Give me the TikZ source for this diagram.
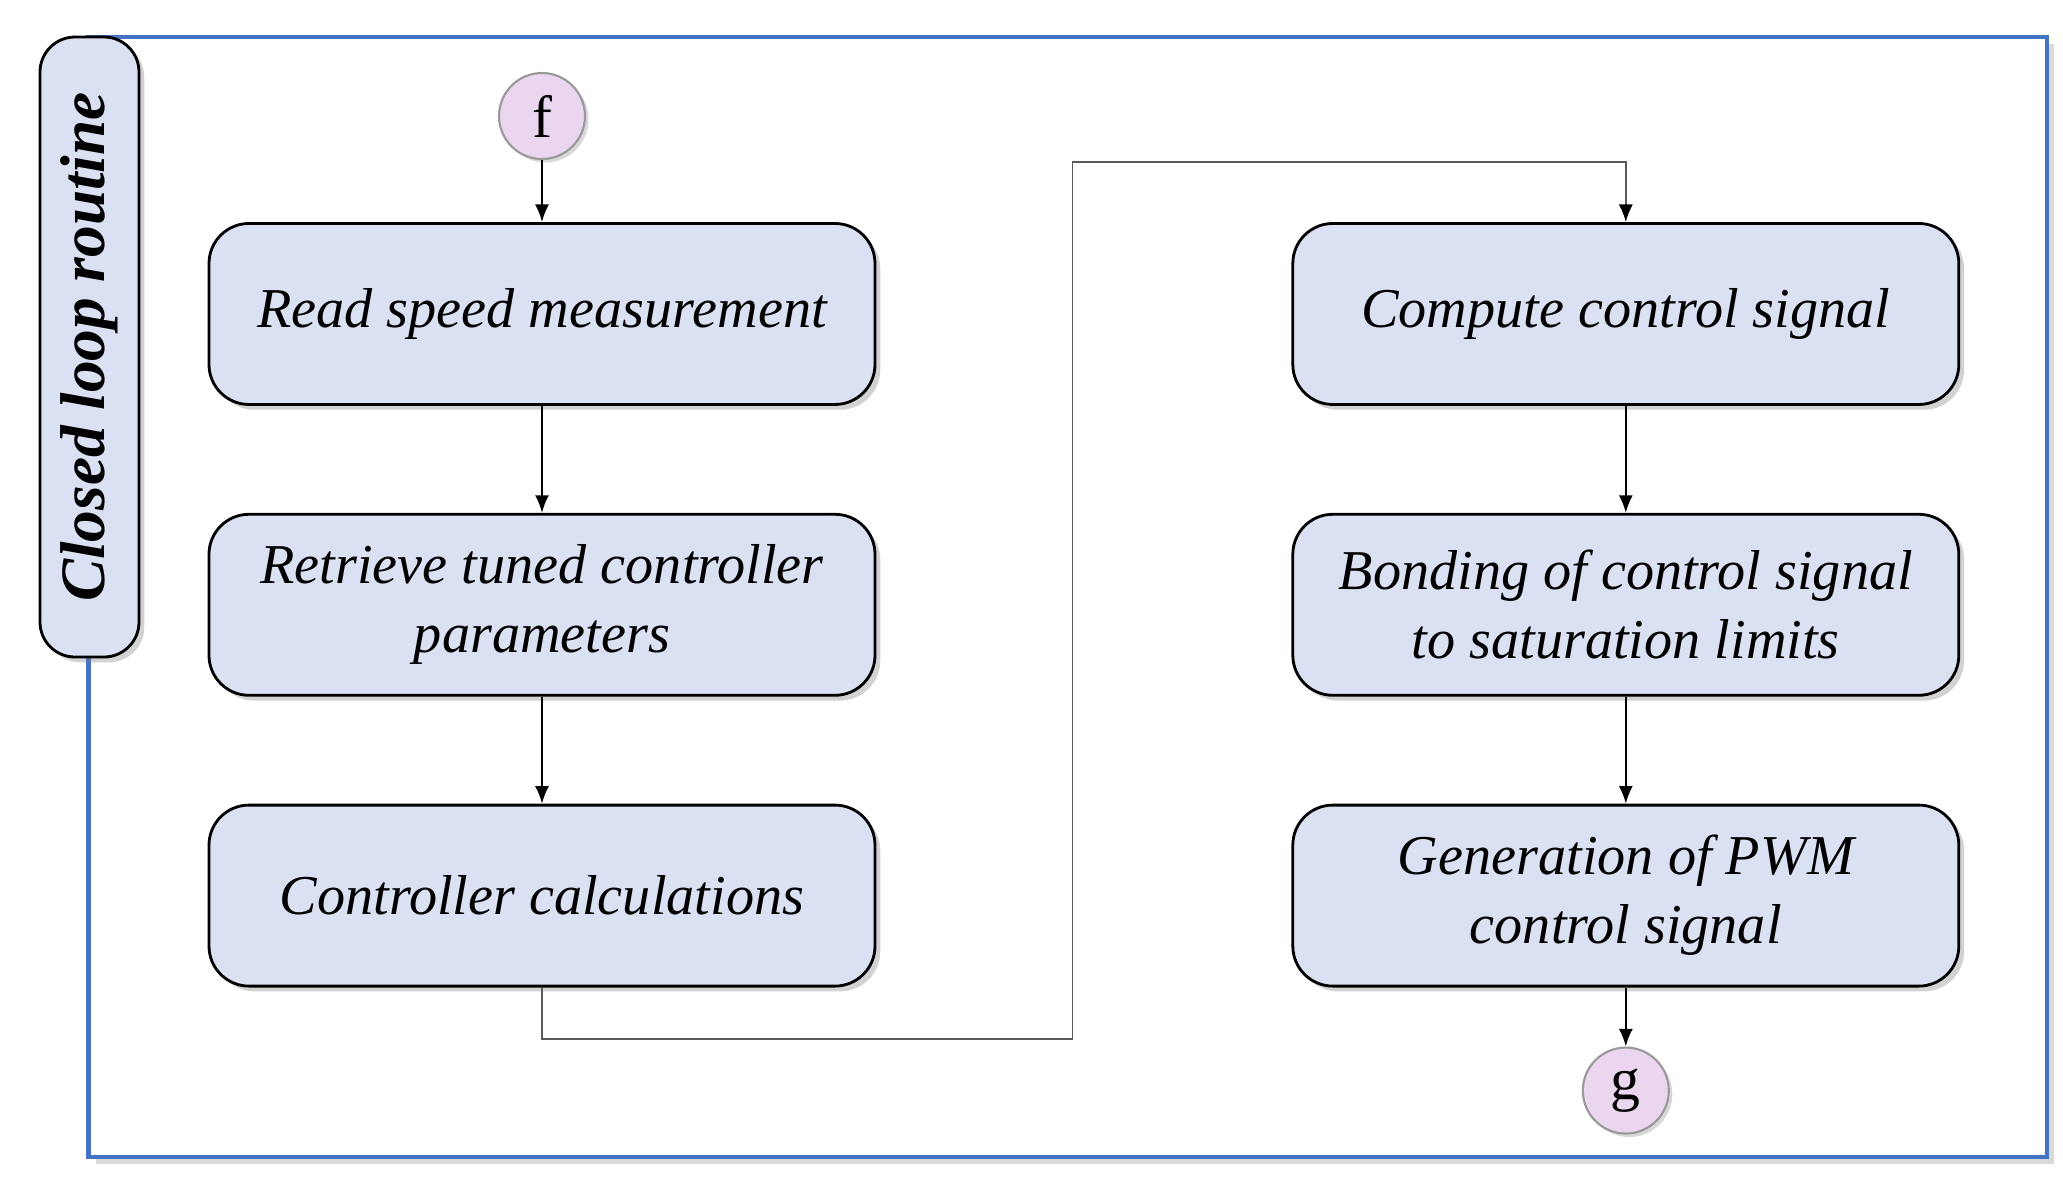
\documentclass[tikz,border=0pt]{standalone}
\usepackage{fontspec}
\setmainfont{Liberation Serif}
\usetikzlibrary{positioning}
\usetikzlibrary{shadows}
\usetikzlibrary{arrows.meta}
\definecolor{boxblue}{HTML}{DAE1F2}
\definecolor{frameblue}{HTML}{4472C4}
\definecolor{pinkfill}{HTML}{EAD6EE}

\tikzset{
  stepbox/.style={draw=black, line width=0.8pt, fill=boxblue, rounded corners=0.4cm,
    minimum width=6.66cm, minimum height=1.81cm, align=center,
    font=\itshape\fontsize{16}{19.6}\selectfont,
    drop shadow={shadow xshift=1.5pt, shadow yshift=-1.5pt, opacity=0.35}},
  sidebox/.style={draw=black, line width=0.8pt, fill=boxblue, rounded corners=0.35cm,
    minimum width=6.2cm, minimum height=0.99cm, inner sep=0pt,
    font=\bfseries\itshape\fontsize{18}{20}\selectfont,
    drop shadow={shadow xshift=1.5pt, shadow yshift=-1.5pt, opacity=0.35}},
  linkdot/.style={circle, draw=gray!80, line width=0.6pt, fill=pinkfill,
    minimum size=0.86cm, inner sep=0pt, font=\fontsize{17}{17}\selectfont,
    drop shadow={shadow xshift=1pt, shadow yshift=-1pt, opacity=0.3}},
  flow/.style={-{Latex[length=5pt,width=4pt]}, line width=0.6pt},
  loopline/.style={-{Latex[length=5pt,width=4pt,color=black]}, draw=black!65, line width=0.5pt}
}

\begin{document}
\begin{tikzpicture}

  \useasboundingbox (0,0) rectangle (20.63,-11.91);

  % Frame
  \draw[draw=frameblue, line width=1.2pt, fill=white,
    drop shadow={shadow xshift=2pt, shadow yshift=-2pt, opacity=0.3}]
    (0.886,-0.37) rectangle (20.47,-11.57);
  \node[sidebox, rotate=90] (routine) at (0.895,-3.47) {Closed loop routine};

  % Define nodes
  \node[linkdot] (f) at (5.42,-1.16) {f};
  \node[stepbox, below=0.62cm of f] (read) {Read speed measurement};
  \node[stepbox, below=1.07cm of read] (retrieve) {Retrieve tuned controller\\parameters};
  \node[stepbox, below=1.07cm of retrieve] (calc) {Controller calculations};
  \node[stepbox, right=4.15cm of read] (compute) {Compute control signal};
  \node[stepbox, below=1.07cm of compute] (bond) {Bonding of control signal\\to saturation limits};
  \node[stepbox, below=1.07cm of bond] (pwm) {Generation of PWM\\control signal};
  \node[linkdot, below=0.59cm of pwm] (g) {g};

  % Connect the nodes
  \draw[flow] (f) -- (read);
  \draw[flow] (read) -- (retrieve);
  \draw[flow] (retrieve) -- (calc);
  \draw[flow] (compute) -- (bond);
  \draw[flow] (bond) -- (pwm);
  \draw[flow] (pwm) -- (g);

  \coordinate (lowturn) at (10.725,-10.39);
  \draw[loopline] (calc.south) |- (lowturn) |- ([yshift=0.6cm]compute.north) -- (compute.north);

\end{tikzpicture}
\end{document}
